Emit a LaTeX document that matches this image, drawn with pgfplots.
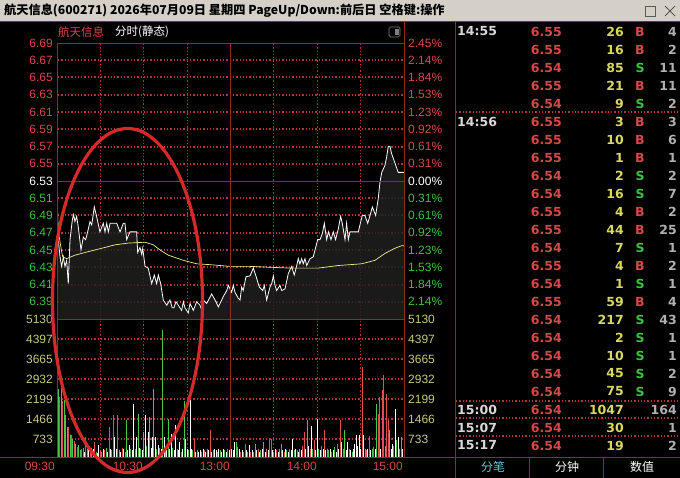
\documentclass[border=0pt]{standalone}
\usepackage{pgfplots}
\usepackage{pgfplotstable}
\pgfplotsset{compat=1.18}
\usepackage{fontspec}
\setmainfont{Liberation Sans}
\newfontfamily\cjk{Noto Sans CJK SC}
\newfontfamily\dejavu{DejaVu Sans}
\definecolor{upred}{HTML}{D84848}
\definecolor{barred}{HTML}{E05050}
\definecolor{dngreen}{HTML}{40C040}
\definecolor{bargreen}{HTML}{48C848}
\definecolor{gridred}{HTML}{B83434}
\definecolor{framered}{HTML}{962828}
\definecolor{volyel}{HTML}{C8C880}
\definecolor{avgyel}{HTML}{F0F080}
\definecolor{fillgray}{HTML}{202020}
\definecolor{titlegray}{HTML}{D4D0C8}
\definecolor{tradeyel}{HTML}{D8D860}
\definecolor{cntgray}{HTML}{B0B0B0}
\definecolor{timegray}{HTML}{D8D8D8}
\definecolor{tabcyan}{HTML}{60C8D0}
\definecolor{ellred}{HTML}{D42A2A}
\tikzset{gridline/.style={draw=gridred, line width=1.1pt, dash pattern=on 1.3pt off 2pt}}

\pgfplotstableread{
t p
0 6.520
0.9 6.462
2.1 6.442
3.2 6.431
4.4 6.442
5.5 6.431
6.7 6.438
7.8 6.411
9.0 6.462
10.6 6.485
11.5 6.491
12.4 6.483
13.6 6.489
14.7 6.477
16.6 6.450
18.2 6.465
19.8 6.462
21.2 6.471
22.8 6.483
24.0 6.479
25.8 6.500
27.4 6.489
29.7 6.471
32.0 6.481
33.2 6.471
34.4 6.481
35.5 6.471
36.7 6.481
41.3 6.481
43.6 6.471
45.9 6.481
47.0 6.481
48.2 6.462
50.5 6.471
55.1 6.471
55.8 6.447
57.4 6.453
58.6 6.445
59.3 6.452
60.9 6.431
63.1 6.429
65.5 6.411
67.3 6.421
68.9 6.411
70.1 6.421
71.7 6.411
73.5 6.392
75.9 6.386
78.1 6.392
79.7 6.383
80.9 6.383
82.3 6.390
83.9 6.386
86.2 6.380
87.4 6.390
88.5 6.383
90.8 6.377
92.0 6.388
94.3 6.380
96.6 6.390
98.9 6.386
100.1 6.380
101.2 6.392
103.5 6.388
107.0 6.399
109.3 6.392
111.6 6.384
113.9 6.392
115.0 6.396
117.4 6.403
118.5 6.409
120.8 6.401
121.9 6.409
123.1 6.401
125.4 6.394
126.6 6.392
127.7 6.407
128.8 6.403
130.7 6.419
133.5 6.420
135.8 6.429
137.6 6.420
139.9 6.407
142.3 6.403
143.4 6.409
145.0 6.392
147.3 6.407
148.5 6.411
149.6 6.420
150.8 6.409
151.9 6.403
154.2 6.409
155.4 6.403
157.7 6.405
160.0 6.423
162.3 6.431
164.1 6.421
165.8 6.432
166.9 6.440
168.0 6.434
169.2 6.440
170.3 6.434
171.5 6.440
172.7 6.432
175.0 6.440
177.2 6.442
180.3 6.462
181.9 6.462
183.5 6.469
184.9 6.481
186.5 6.462
187.7 6.471
189.5 6.462
191.1 6.471
192.7 6.462
194.6 6.475
196.2 6.489
197.3 6.481
199.2 6.462
200.3 6.481
201.5 6.462
202.6 6.471
208.4 6.471
211.1 6.490
213.0 6.490
214.9 6.481
216.5 6.490
218.1 6.500
220.4 6.490
222.2 6.510
223.4 6.529
224.6 6.540
226.8 6.548
228.0 6.558
229.1 6.570
230.3 6.570
231.4 6.562
233.7 6.551
236.0 6.540
240 6.540
}\price

\pgfplotstableread{
t p
0 6.491
1 6.471
3 6.450
4 6.442
6.7 6.440
12.4 6.444
21.4 6.448
30.9 6.452
40.1 6.456
49.3 6.458
60.9 6.459
66.6 6.456
71.2 6.450
77 6.444
87.4 6.438
96.6 6.434
105.8 6.433
119.6 6.431
133.5 6.431
147.3 6.430
161.1 6.429
180.7 6.429
194.5 6.432
210.7 6.434
219.9 6.438
226.8 6.446
233.7 6.452
238.4 6.455
240 6.455
}\avg

\pgfplotstableread{
t v
2 2230
4 2100
8 1120
10 810
12 600
14 370
17 300
20 740
23 200
26 560
30 250
33 250
36 1120
39 1550
42 1550
45 350
95 680
102 250
106 1000
111 200
118 300
120 670
127 200
130 500
134 200
139 300
145 300
147 680
148 680
152 250
157 200
161 300
166 250
170 400
171 930
175 300
178 620
183 400
185 990
190 200
194 500
196 1390
202 300
211 3350
214 250
216 770
219 370
222 1610
223 2230
225 2500
226 3040
228 2330
229 1390
233 400
}\volred

\pgfplotstableread{
t v
0 1860
1 2540
3 2850
5 2110
6 1550
7 1120
9 800
11 680
13 500
15 450
16 250
18 350
21 300
24 350
27 200
31 200
34 350
38 250
43 250
47 200
48 1360
51 300
54 300
56 1610
58 300
60 930
62 400
64 1490
67 2540
69 300
71 350
73 4710
75 300
77 1430
80 350
83 300
86 200
88 2070
91 250
94 250
97 250
100 200
104 300
108 250
113 250
116 250
124 560
125 370
129 200
132 200
136 200
137 500
141 250
143 560
150 200
154 300
155 500
159 250
164 250
168 300
173 1390
177 300
181 300
187 300
188 250
192 370
198 300
199 990
204 200
213 300
218 300
221 1960
227 400
230 990
235 620
237 300
238 740
}\volgreen

\pgfplotstableread{
t v
19 200
22 250
25 300
28 150
29 430
32 300
35 200
37 300
40 740
41 300
44 200
46 300
49 250
50 430
52 250
53 1980
55 740
57 350
59 250
61 1550
63 930
65 350
66 740
68 740
70 430
72 300
74 740
76 250
78 300
79 870
81 250
82 1180
84 250
85 560
87 300
89 680
90 300
92 2130
93 300
96 200
98 190
99 250
101 300
103 200
105 250
107 200
109 300
110 250
112 300
114 200
115 300
117 200
119 250
121 300
122 250
123 560
126 300
128 250
131 250
133 430
135 250
138 250
140 200
142 300
144 200
146 250
149 250
151 300
153 200
156 250
158 300
160 200
162 250
163 680
165 300
167 200
169 250
172 300
174 400
176 1140
179 250
180 1430
182 250
184 300
186 250
189 300
191 250
193 200
195 300
197 560
200 250
201 560
203 250
205 300
206 500
207 810
208 400
209 810
210 300
212 810
215 300
217 250
220 300
224 300
231 300
232 500
234 1770
236 740
239 300
240 1090
}\volwhite

\pgfplotsset{tdx/.style={scale only axis, width=347pt, xmin=0, xmax=240,
  axis line style={draw=none}, major tick length=0pt,
  xticklabels={}, yticklabels={}, xtick=\empty, ytick=\empty}}

\begin{document}
\begin{tikzpicture}
\fill[black] (0pt,0pt) rectangle (680pt,-478pt);
\begin{scope}[x=1pt,y=-1pt]
  \fill[titlegray] (0,0) rectangle (680,21);
  \node[anchor=west, inner sep=0pt, font=\cjk\bfseries\fontsize{12.2}{14}\selectfont, black] at (4,11)
    {航天信息(600271) 2026年07月09日 星期四 PageUp/Down:前后日 空格键:操作};
  \draw[gray!70!black, line width=0.8pt] (645,6) rectangle (655,16);
  \draw[gray!70!black, line width=0.8pt] (665,6) -- (675,16) (665,16) -- (675,6);
  % grid (under the plots)
  \foreach \yy in {60,77,95,112,129,147,164,198,215,233,250,267,285,302,
                   339,359,379,399,419,439}{
    \draw[gridline] (58,\yy) -- (404,\yy);
  }
  \foreach \xx in {100.5,143.5,187.5,273.5,317.5,360.5}{
    \draw[gridline] (\xx,44) -- (\xx,457);
  }
\end{scope}

\begin{axis}[tdx, at={(57pt,-319pt)}, anchor=south west, height=276pt,
  ymin=6.37, ymax=6.69]
  \addplot[draw=none, fill=fillgray, fill opacity=0.82] table[x=t,y=p] {\price} \closedcycle;
  \addplot[white, line width=0.8pt] table[x=t,y=p] {\price};
  \addplot[avgyel, line width=0.7pt] table[x=t,y=p] {\avg};
\end{axis}

\begin{axis}[tdx, at={(57pt,-457pt)}, anchor=south west, height=138pt,
  ymin=0, ymax=5130]
  \addplot[ycomb, no markers, draw=bargreen, line width=0.9pt] table[x=t,y=v] {\volgreen};
  \addplot[ycomb, no markers, draw=barred, line width=0.9pt] table[x=t,y=v] {\volred};
  \addplot[ycomb, no markers, draw=white, line width=0.9pt] table[x=t,y=v] {\volwhite};
\end{axis}

\begin{scope}[x=1pt,y=-1pt]
  % frame lines
  \draw[framered, line width=0.7pt] (0,21.5) -- (680,21.5);
  \draw[framered, line width=0.9pt] (57,43) -- (404,43);
  \draw[framered, line width=0.9pt] (57,43) -- (57,457);
  \draw[framered, line width=0.9pt] (404,21.5) -- (404,457);
  \draw[framered, line width=0.9pt] (455,21.5) -- (455,478);
  \draw[framered, line width=0.9pt] (57,181) -- (404,181);
  \draw[framered, line width=0.9pt] (57,319) -- (404,319);
  \draw[framered, line width=0.9pt] (230.5,43) -- (230.5,457);
  \draw[framered, line width=0.9pt] (0,457) -- (680,457);
  \draw[framered, line width=0.9pt] (529,457) -- (529,478);
  \draw[framered, line width=0.9pt] (603,457) -- (603,478);
  % header
  \node[anchor=west, inner sep=0pt, font=\cjk\fontsize{11.5}{13}\selectfont, upred] at (58,32) {航天信息};
  \node[anchor=west, inner sep=0pt, font=\cjk\fontsize{11.5}{13}\selectfont, white] at (115,32) {分时(静态)};
  \draw[gray, line width=0.7pt, rounded corners=1.5pt] (389,27) rectangle (400,37);
  \fill[gray] (395,29) rectangle (398.5,35);
  % price labels
  \foreach \k/\lab/\rl/\c in {0/6.69/2.45\%/upred,1/6.67/2.14\%/upred,2/6.65/1.84\%/upred,3/6.63/1.53\%/upred,
     4/6.61/1.23\%/upred,5/6.59/0.92\%/upred,6/6.57/0.61\%/upred,7/6.55/0.31\%/upred,8/6.53/0.00\%/white,
     9/6.51/0.31\%/dngreen,10/6.49/0.61\%/dngreen,11/6.47/0.92\%/dngreen,12/6.45/1.23\%/dngreen,
     13/6.43/1.53\%/dngreen,14/6.41/1.84\%/dngreen,15/6.39/2.14\%/dngreen}{
    \node[anchor=east, inner sep=0pt, font=\fontsize{12}{14}\selectfont, text=\c] at (53,43+\k*17.25) {\lab};
    \node[anchor=west, inner sep=0pt, font=\fontsize{12}{14}\selectfont, text=\c] at (408,43+\k*17.25) {\rl};
  }
  \foreach \j/\lab in {0/5130,1/4397,2/3665,3/2932,4/2199,5/1466,6/733}{
    \node[anchor=east, inner sep=0pt, font=\fontsize{12}{14}\selectfont, text=volyel] at (53,319+\j*20) {\lab};
    \node[anchor=west, inner sep=0pt, font=\fontsize{12}{14}\selectfont, text=volyel] at (408,319+\j*20) {\lab};
  }
  \foreach \xx/\lab in {55/09:30,143/10:30,230/13:00,317/14:00,403/15:00}{
    \node[anchor=east, inner sep=0pt, font=\fontsize{12}{14}\selectfont, text=upred] at (\xx,466) {\lab};
  }
  % right panel
  \foreach \r/\tm/\p/\v/\bs/\bc/\n in {
    0/14:55/6.55/26/B/upred/4, 1//6.55/16/B/upred/2, 2//6.54/85/S/dngreen/11, 3//6.55/21/B/upred/11,
    4//6.54/9/S/dngreen/2, 5/14:56/6.55/3/B/upred/3, 6//6.55/10/B/upred/6, 7//6.55/1/B/upred/1,
    8//6.54/2/S/dngreen/2, 9//6.54/16/S/dngreen/7, 10//6.55/4/B/upred/2, 11//6.55/44/B/upred/25,
    12//6.54/7/S/dngreen/1, 13//6.55/4/B/upred/2, 14//6.54/1/S/dngreen/1, 15//6.55/59/B/upred/4,
    16//6.54/217/S/dngreen/43, 17//6.54/2/S/dngreen/1, 18//6.54/10/S/dngreen/1, 19//6.54/45/S/dngreen/2,
    20//6.54/75/S/dngreen/9, 21/15:00/6.54/1047//white/164, 22/15:07/6.54/30//white/1, 23/15:17/6.54/19//white/2}{
    \node[anchor=west, inner sep=0pt, font=\dejavu\bfseries\fontsize{12.5}{14}\selectfont, text=timegray] at (457,31.5+\r*18) {\tm};
    \node[anchor=east, inner sep=0pt, font=\dejavu\bfseries\fontsize{12.5}{14}\selectfont, text=upred] at (562,31.5+\r*18) {\p};
    \node[anchor=east, inner sep=0pt, font=\dejavu\bfseries\fontsize{12.5}{14}\selectfont, text=tradeyel] at (624,31.5+\r*18) {\v};
    \node[anchor=center, inner sep=0pt, font=\dejavu\bfseries\fontsize{12.5}{14}\selectfont, text=\bc] at (640,31.5+\r*18) {\bs};
    \node[anchor=east, inner sep=0pt, font=\dejavu\bfseries\fontsize{12.5}{14}\selectfont, text=cntgray] at (677,31.5+\r*18) {\n};
  }
  \foreach \yy in {112,401,418,436}{
    \draw[gridline] (456,\yy) -- (680,\yy);
  }
  \node[anchor=center, inner sep=0pt, font=\cjk\fontsize{12}{14}\selectfont, text=tabcyan] at (493,467) {分笔};
  \node[anchor=center, inner sep=0pt, font=\cjk\fontsize{12}{14}\selectfont, text=white] at (567,467) {分钟};
  \node[anchor=center, inner sep=0pt, font=\cjk\fontsize{12}{14}\selectfont, text=white] at (642,467) {数值};
  % annotation ellipse
  \draw[ellred, line width=3.2pt] (127.5,300.5) ellipse [x radius=75, y radius=172];
\end{scope}
\pgfresetboundingbox
\path[use as bounding box] (0pt,0pt) rectangle (680pt,-478pt);
\end{tikzpicture}
\end{document}
